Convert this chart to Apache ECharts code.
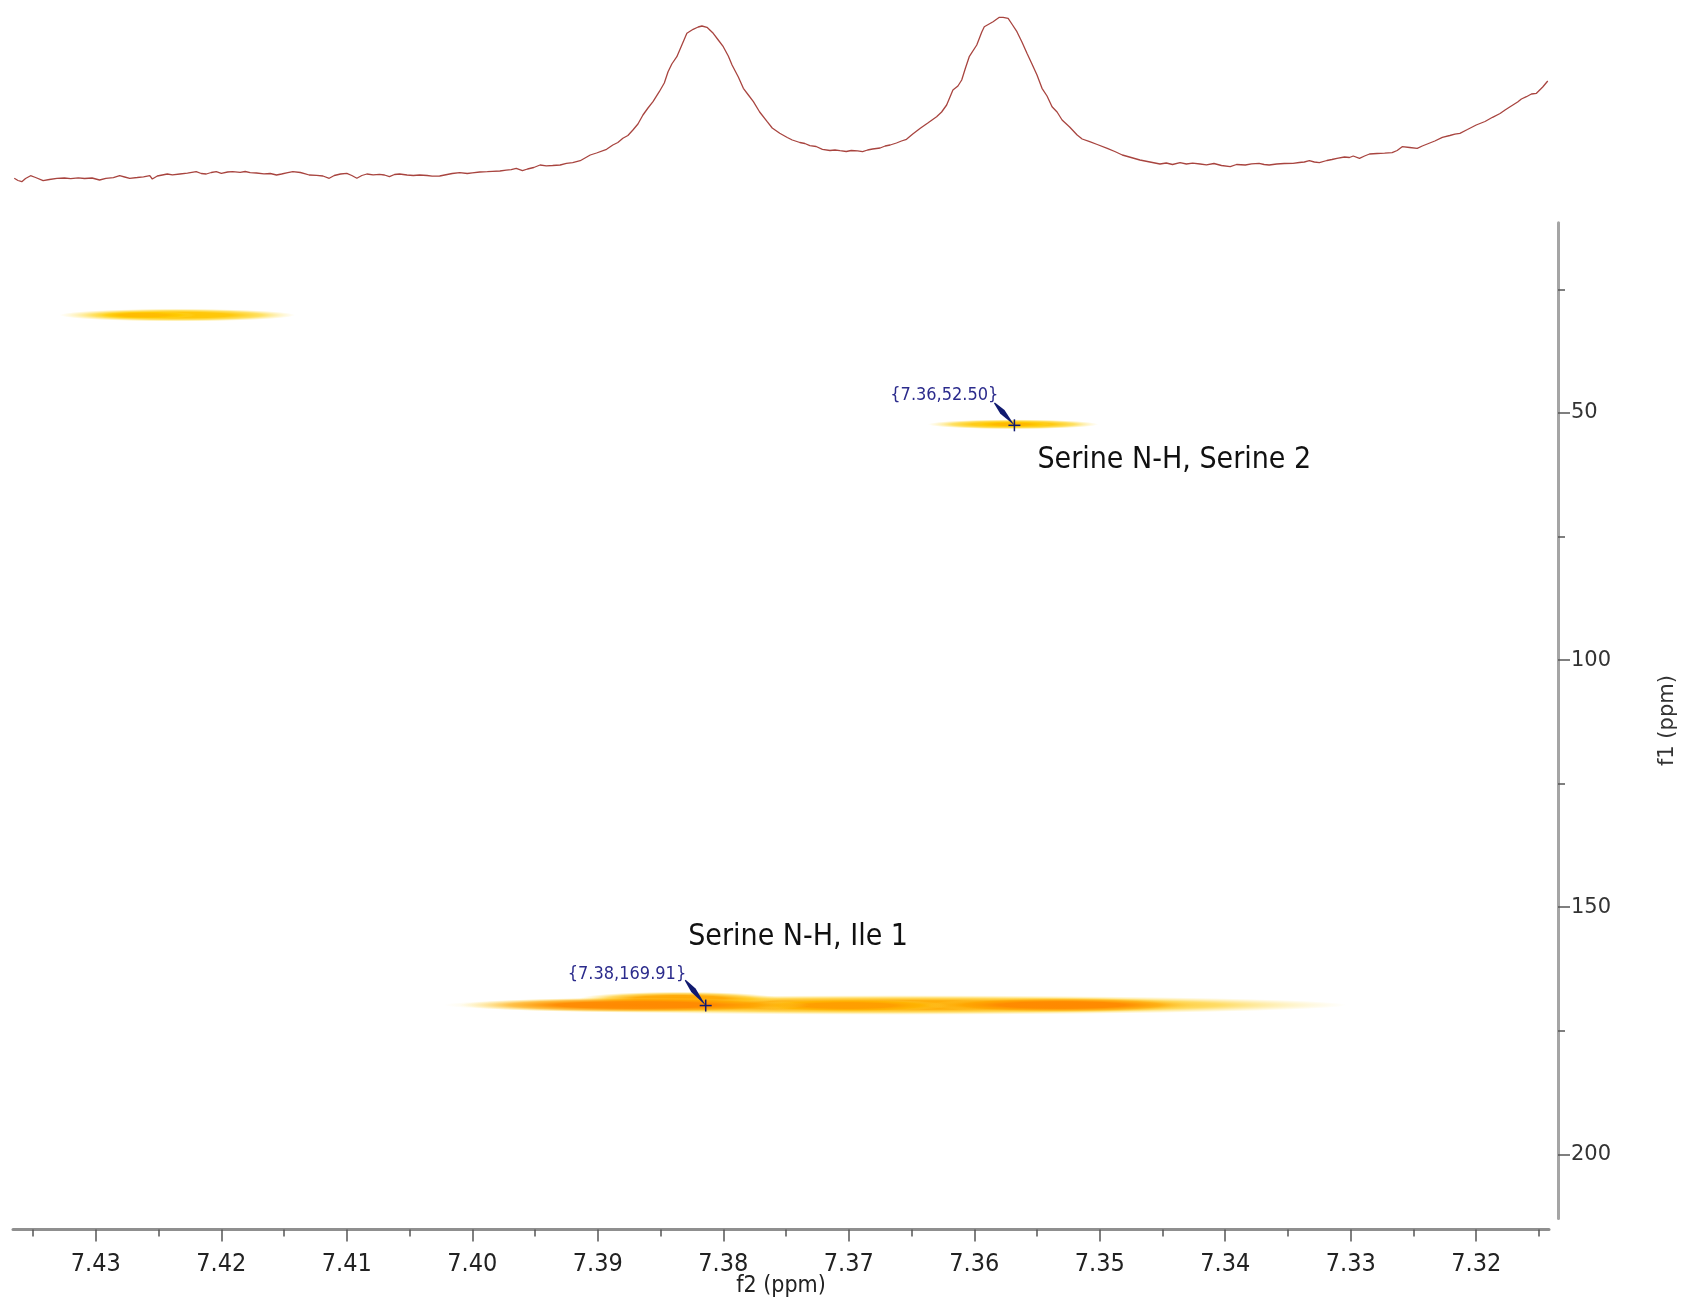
<!DOCTYPE html>
<html><head><meta charset="utf-8">
<script src="https://cdn.jsdelivr.net/npm/echarts@6/dist/echarts.min.js"></script>
<style>html,body{margin:0;padding:0;background:#fff}#c{width:1681px;height:1303px}</style>
</head><body><div id="c"></div>
<script>
// ---- 1D projection along f2 (ppm): chemical shift and intensity ----
const specF2 = [
  7.4365, 7.4362, 7.4359, 7.4356, 7.4352, 7.4348, 7.4342, 7.4337, 7.4331, 7.4325,
  7.4320, 7.4314, 7.4309, 7.4303, 7.4297, 7.4292, 7.4286, 7.4281, 7.4277, 7.4273,
  7.4267, 7.4262, 7.4257, 7.4255, 7.4251, 7.4243, 7.4239, 7.4233, 7.4227, 7.4220,
  7.4216, 7.4212, 7.4208, 7.4204, 7.4200, 7.4195, 7.4191, 7.4185, 7.4181, 7.4177,
  7.4172, 7.4166, 7.4161, 7.4156, 7.4152, 7.4147, 7.4143, 7.4137, 7.4133, 7.4130,
  7.4124, 7.4119, 7.4114, 7.4110, 7.4105, 7.4100, 7.4096, 7.4092, 7.4088, 7.4084,
  7.4079, 7.4074, 7.4070, 7.4066, 7.4062, 7.4058, 7.4052, 7.4047, 7.4042, 7.4036,
  7.4032, 7.4026, 7.4020, 7.4016, 7.4010, 7.4004, 7.4000, 7.3994, 7.3988, 7.3984,
  7.3978, 7.3973, 7.3969, 7.3965, 7.3960, 7.3956, 7.3951, 7.3946, 7.3941, 7.3936,
  7.3930, 7.3925, 7.3920, 7.3914, 7.3906, 7.3901, 7.3893, 7.3888, 7.3884, 7.3880,
  7.3876, 7.3872, 7.3868, 7.3864, 7.3860, 7.3856, 7.3851, 7.3847, 7.3844, 7.3841,
  7.3837, 7.3833, 7.3829, 7.3824, 7.3820, 7.3817, 7.3813, 7.3808, 7.3804, 7.3800,
  7.3796, 7.3793, 7.3788, 7.3784, 7.3780, 7.3776, 7.3771, 7.3765, 7.3761, 7.3755,
  7.3749, 7.3745, 7.3739, 7.3735, 7.3731, 7.3726, 7.3721, 7.3715, 7.3711, 7.3707,
  7.3702, 7.3698, 7.3693, 7.3689, 7.3685, 7.3681, 7.3675, 7.3671, 7.3667, 7.3662,
  7.3658, 7.3654, 7.3649, 7.3643, 7.3637, 7.3630, 7.3626, 7.3622, 7.3617, 7.3613,
  7.3610, 7.3607, 7.3604, 7.3598, 7.3594, 7.3592, 7.3585, 7.3580, 7.3577, 7.3573,
  7.3570, 7.3566, 7.3562, 7.3558, 7.3554, 7.3550, 7.3546, 7.3542, 7.3538, 7.3534,
  7.3530, 7.3524, 7.3518, 7.3514, 7.3508, 7.3502, 7.3494, 7.3488, 7.3482, 7.3475,
  7.3468, 7.3462, 7.3456, 7.3452, 7.3447, 7.3442, 7.3436, 7.3431, 7.3426, 7.3420,
  7.3415, 7.3409, 7.3403, 7.3396, 7.3391, 7.3384, 7.3379, 7.3373, 7.3369, 7.3365,
  7.3359, 7.3353, 7.3346, 7.3341, 7.3337, 7.3333, 7.3329, 7.3325, 7.3319, 7.3315,
  7.3311, 7.3305, 7.3301, 7.3298, 7.3293, 7.3289, 7.3285, 7.3279, 7.3273, 7.3267,
  7.3263, 7.3259, 7.3253, 7.3247, 7.3243, 7.3239, 7.3233, 7.3227, 7.3221, 7.3217,
  7.3213, 7.3207, 7.3200, 7.3193, 7.3187, 7.3181, 7.3177, 7.3173, 7.3167, 7.3164,
  7.3160, 7.3156, 7.3152, 7.3147, 7.3143];
const specInt = [
  21.7, 19.5, 18.3, 21.5, 24.3, 22.5, 19.3, 20.5, 21.7, 22.0,
  21.4, 22.2, 21.5, 22.0, 20.0, 21.6, 22.4, 24.3, 23.0, 21.7,
  22.5, 23.2, 24.3, 21.0, 24.0, 26.0, 25.2, 26.0, 26.8, 28.3,
  26.5, 26.0, 27.5, 28.3, 26.7, 28.0, 28.3, 27.7, 28.5, 27.3,
  27.0, 26.2, 26.5, 25.0, 26.0, 27.4, 28.3, 27.5, 26.2, 25.0,
  24.7, 24.0, 21.7, 24.5, 26.0, 26.7, 24.5, 21.7, 24.5, 26.0,
  25.2, 25.7, 25.0, 23.3, 25.5, 26.0, 25.0, 24.5, 25.0, 24.5,
  23.8, 24.0, 25.5, 26.5, 27.3, 26.5, 27.2, 28.0, 28.3, 28.7,
  29.0, 29.8, 30.3, 31.7, 29.3, 31.0, 32.5, 35.0, 34.2, 34.5,
  35.0, 36.7, 37.3, 39.3, 45.0, 47.0, 50.7, 55.0, 57.5, 61.7,
  64.5, 70.0, 76.0, 85.0, 92.0, 98.3, 108.3, 117.0, 128.3, 136.0,
  143.3, 155.0, 166.7, 170.7, 173.0, 174.0, 172.7, 166.7, 160.0, 153.3,
  144.0, 135.0, 123.0, 111.7, 105.0, 98.3, 88.0, 78.3, 72.0, 66.7,
  62.5, 60.0, 57.5, 56.5, 54.3, 53.5, 50.7, 49.5, 50.0, 49.3,
  48.5, 49.5, 49.2, 48.3, 50.0, 51.0, 52.0, 54.0, 55.0, 57.0,
  59.0, 60.7, 66.0, 71.7, 77.0, 83.3, 88.0, 95.0, 110.0, 114.0,
  120.0, 132.0, 143.3, 155.0, 168.0, 173.3, 178.3, 182.7, 182.7, 181.7,
  176.0, 168.3, 158.0, 146.7, 136.0, 125.0, 111.7, 104.0, 93.3, 88.0,
  80.0, 73.0, 65.0, 61.0, 58.3, 55.5, 51.7, 48.5, 45.0, 42.5,
  40.0, 38.5, 37.0, 36.0, 37.0, 35.5, 37.3, 36.0, 36.8, 36.0,
  35.2, 36.5, 34.5, 33.3, 35.5, 35.0, 36.2, 36.7, 35.5, 35.0,
  36.0, 36.5, 36.7, 37.5, 38.0, 39.3, 38.0, 37.3, 39.5, 40.5,
  41.7, 43.0, 42.5, 44.0, 41.7, 44.0, 46.0, 46.5, 46.8, 47.3,
  49.5, 53.3, 52.5, 51.7, 54.0, 56.0, 59.0, 62.7, 64.5, 65.8,
  66.7, 70.5, 75.0, 78.5, 82.7, 86.5, 90.0, 93.3, 98.0, 101.0,
  103.3, 106.0, 106.7, 113.0, 119.0];

// ---- axes ----
const f2Range = [7.3142, 7.4366];
const f2MajorTicks = [7.32, 7.33, 7.34, 7.35, 7.36, 7.37, 7.38, 7.39, 7.40, 7.41, 7.42, 7.43];
const f2MinorTicks = [7.315, 7.325, 7.335, 7.345, 7.355, 7.365, 7.375, 7.385, 7.395, 7.405, 7.415, 7.425, 7.435];
const f1Range = [11.5, 213];
const f1MajorTicks = [50, 100, 150, 200];
const f1MinorTicks = [25, 75, 125, 175];
const intRange = [0, 200];

// ---- 2D contour components (f2 centre, f1 centre, f2 half-width, f1 half-height, level) ----
const blobF2 = [7.4235, 7.4262, 7.3569, 7.3570, 7.3663, 7.3700, 7.3835, 7.3870, 7.3530];
const blobF1 = [30.2, 30.2, 52.3, 52.3, 169.8, 169.9, 168.5, 169.8, 169.8];
const blobHW = [0.0094, 0.0042, 0.0068, 0.0032, 0.0360, 0.0080, 0.0080, 0.0140, 0.0110];
const blobHH = [1.3, 0.8, 1.0, 0.6, 2.0, 1.3, 1.4, 1.5, 1.5];
const blobLevel = [0.1, 0.2, 0.1, 0.25, 0.4, 0.55, 0.45, 0.8, 0.8];

// ---- picked peaks ----
const peakF2 = [7.3568, 7.3814];
const peakF1 = [52.50, 169.91];
const peakNames = ['Serine N-H, Serine 2', 'Serine N-H, Ile 1'];

// layout of the annotation pieces (pixel offsets from the picked point)
const annoLayout = [
  {cx: -16, cy: -30, ax: -20, ay: -22.5, nx: 23, ny: 34.5},
  {cx: -19.5, cy: -31, ax: -20.5, ay: -25.5, nx: -17.5, ny: -68}
];

function levelColor(l, a) {
  const g = Math.round(205 - 85 * l);
  return 'rgba(255,' + g + ',0,' + a + ')';
}

const chart = echarts.init(document.getElementById('c'), null, {renderer: 'canvas'});
const GL = 13, GR = 132;
const cond = '"DejaVu Sans Condensed", "Liberation Sans Narrow", sans-serif';

chart.setOption({
  animation: false,
  backgroundColor: '#fff',
  grid: [
    {left: GL, right: GR, top: 0, height: 200, containLabel: false, outerBoundsMode: 'none'},
    {left: GL, right: GR, top: 222.7, bottom: 84.5, containLabel: false, outerBoundsMode: 'none'}
  ],
  xAxis: [
    {gridIndex: 0, type: 'value', min: f2Range[0], max: f2Range[1], inverse: true, show: false},
    {gridIndex: 1, type: 'value', min: f2Range[0], max: f2Range[1], inverse: true, position: 'bottom', offset: 11,
      axisLine: {show: true, onZero: false, lineStyle: {color: '#8f8f8f', width: 3}},
      axisTick: {show: true, customValues: f2MajorTicks, length: 12, lineStyle: {color: '#555', width: 1.5}},
      axisLabel: {customValues: f2MajorTicks, formatter: v => v.toFixed(2), margin: 22,
        fontFamily: cond, fontSize: 25, color: '#222'},
      splitLine: {show: false},
      name: 'f2 (ppm)', nameLocation: 'middle', nameGap: 45, nameMoveOverlap: false,
      nameTextStyle: {fontFamily: cond, fontSize: 23, color: '#222'}},
    {gridIndex: 1, type: 'value', min: f2Range[0], max: f2Range[1], inverse: true, position: 'bottom', offset: 11,
      axisLine: {show: false, onZero: false},
      axisTick: {show: true, customValues: f2MinorTicks, length: 7, lineStyle: {color: '#555', width: 1.5}},
      axisLabel: {show: false}, splitLine: {show: false}}
  ],
  yAxis: [
    {gridIndex: 0, type: 'value', min: intRange[0], max: intRange[1], show: false},
    {gridIndex: 1, type: 'value', min: f1Range[0], max: f1Range[1], inverse: true, position: 'right', offset: 9,
      axisLine: {show: true, onZero: false, lineStyle: {color: '#a5a5a5', width: 3}},
      axisTick: {show: true, customValues: f1MajorTicks, length: 12, lineStyle: {color: '#555', width: 1.5}},
      axisLabel: {show: true, customValues: f1MajorTicks, margin: 13, fontFamily: '"DejaVu Sans", sans-serif', fontSize: 21, color: '#333'},
      splitLine: {show: false},
      name: 'f1 (ppm)', nameLocation: 'middle', nameRotate: 90, nameGap: 99,
      nameTextStyle: {fontFamily: '"DejaVu Sans", sans-serif', fontSize: 21, color: '#333'}},
    {gridIndex: 1, type: 'value', min: f1Range[0], max: f1Range[1], inverse: true, position: 'right', offset: 9,
      axisLine: {show: false, onZero: false},
      axisTick: {show: true, customValues: f1MinorTicks, length: 7, lineStyle: {color: '#555', width: 1.5}},
      axisLabel: {show: false}, splitLine: {show: false}}
  ],
  series: [
    {type: 'line', xAxisIndex: 0, yAxisIndex: 0, showSymbol: false, symbol: 'none',
      data: specF2.map((x, i) => [x, specInt[i]]),
      lineStyle: {color: '#a8443f', width: 1.3}},
    {type: 'custom', xAxisIndex: 1, yAxisIndex: 1, z: 2,
      data: blobF2.map((x, i) => [x, blobF1[i], blobHW[i], blobHH[i], blobLevel[i]]),
      renderItem: function (params, api) {
        const c = api.coord([api.value(0), api.value(1)]);
        const e = api.coord([api.value(0) - api.value(2), api.value(1) + api.value(3)]);
        const rx = Math.abs(e[0] - c[0]), ry = Math.abs(e[1] - c[1]);
        const l = api.value(4);
        return {type: 'circle', shape: {cx: 0, cy: 0, r: 1}, x: c[0], y: c[1], scaleX: rx, scaleY: ry,
          style: {fill: {type: 'radial', x: 0.5, y: 0.5, r: 0.5, colorStops: [
            {offset: 0, color: levelColor(l, 1)},
            {offset: 0.45, color: levelColor(l, 0.95)},
            {offset: 0.72, color: levelColor(Math.max(0, l - 0.3), 0.6)},
            {offset: 1, color: 'rgba(255,225,90,0)'}]}}};
      }},
    {type: 'custom', xAxisIndex: 1, yAxisIndex: 1, z: 5,
      data: peakF2.map((x, i) => [x, peakF1[i]]),
      renderItem: function (params, api) {
        const i = params.dataIndex;
        const f2 = peakF2[i], f1 = peakF1[i];
        const p = api.coord([f2, f1]);
        const L = annoLayout[i];
        const s = [p[0] + L.ax, p[1] + L.ay];
        const dx = p[0] - s[0], dy = p[1] - s[1], len = Math.hypot(dx, dy);
        const nx = -dy / len, ny = dx / len;
        const m = [s[0] + dx * 0.4, s[1] + dy * 0.4];
        const poly = [[s[0] + nx * 0.6, s[1] + ny * 0.6], [m[0] + nx * 2.8, m[1] + ny * 2.8], [p[0], p[1]],
          [m[0] - nx * 2.8, m[1] - ny * 2.8], [s[0] - nx * 0.6, s[1] - ny * 0.6]];
        return {type: 'group', children: [
          {type: 'polygon', shape: {points: poly}, style: {fill: '#101a70'}},
          {type: 'line', shape: {x1: p[0] - 6, y1: p[1], x2: p[0] + 6, y2: p[1]}, style: {stroke: '#101a70', lineWidth: 1.5}},
          {type: 'line', shape: {x1: p[0], y1: p[1] - 6, x2: p[0], y2: p[1] + 6}, style: {stroke: '#101a70', lineWidth: 1.5}},
          {type: 'text', x: p[0] + L.cx, y: p[1] + L.cy, style: {
            text: '{' + f2.toFixed(2) + ',' + f1.toFixed(2) + '}', align: 'right', verticalAlign: 'middle',
            fill: '#2b2b8c', fontSize: 18, fontFamily: cond}},
          {type: 'text', x: p[0] + L.nx, y: p[1] + L.ny, style: {
            text: peakNames[i], align: 'left', verticalAlign: 'middle',
            fill: '#111', fontSize: 30, fontFamily: cond}}
        ]};
      }}
  ]
});
</script></body></html>
